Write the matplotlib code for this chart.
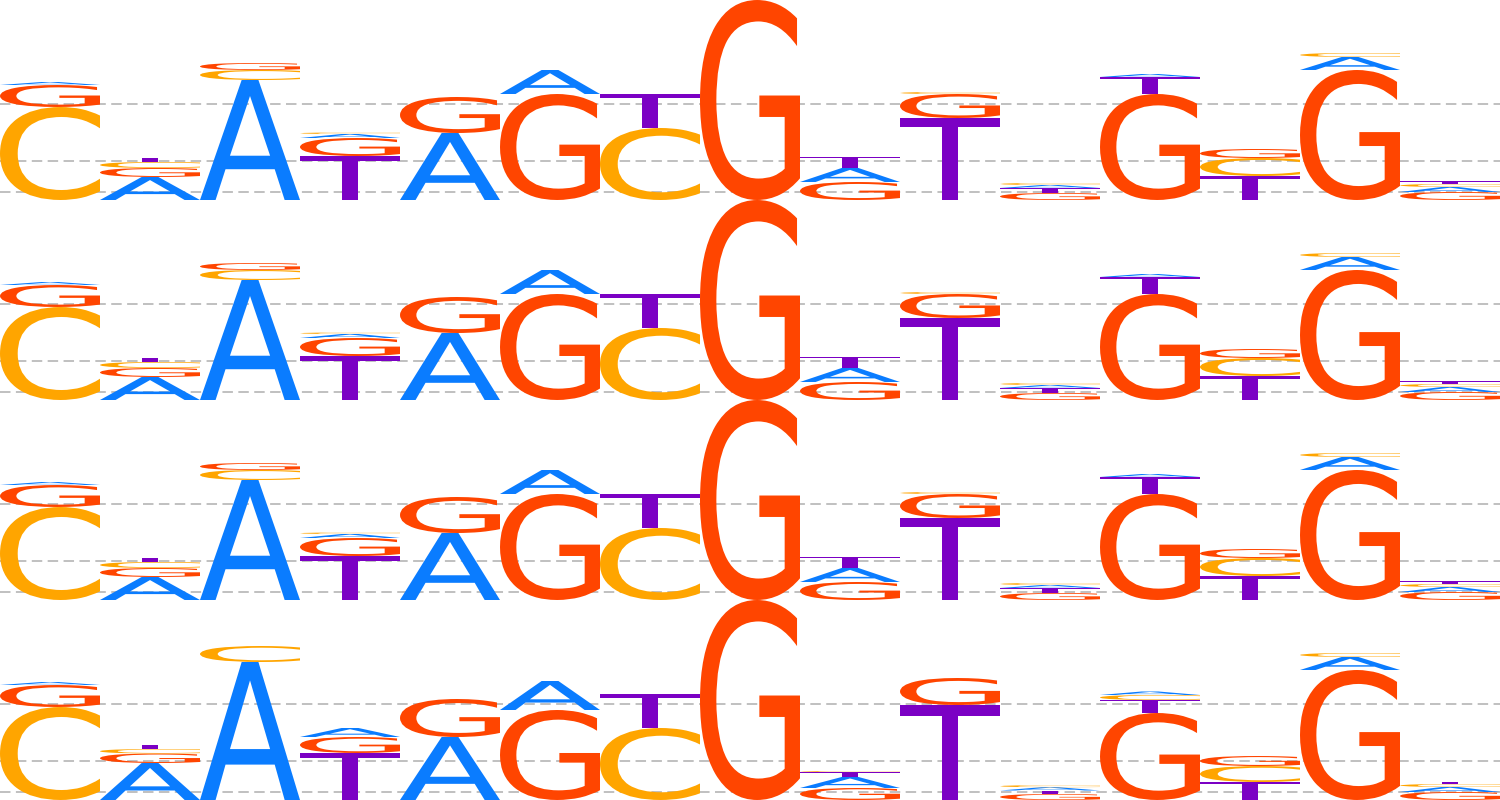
import matplotlib
matplotlib.use("Agg")
import matplotlib.pyplot as plt
from matplotlib.textpath import TextPath
from matplotlib.patches import PathPatch
from matplotlib.font_manager import FontProperties
from matplotlib.transforms import Affine2D

# letter heights (bits) per position, rows 1-3 share the same motif
letters = ["A", "C", "G", "T"]

row1_A = [0.03, 0.23, 1.20, 0.04, 0.67, 0.24, 0.00, 0.00, 0.14, 0.00, 0.03, 0.03, 0.00, 0.13, 0.05]
row1_C = [0.93, 0.06, 0.10, 0.015, 0.00, 0.00, 0.72, 0.00, 0.00, 0.02, 0.02, 0.00, 0.18, 0.04, 0.03]
row1_G = [0.22, 0.09, 0.07, 0.18, 0.36, 1.06, 0.00, 2.00, 0.18, 0.24, 0.07, 1.06, 0.09, 1.30, 0.08]
row1_T = [0.00, 0.04, 0.00, 0.44, 0.00, 0.00, 0.34, 0.00, 0.11, 0.82, 0.05, 0.17, 0.24, 0.00, 0.028]

row2_A = list(row1_A)
row2_C = list(row1_C)
row2_G = list(row1_G)
row2_T = list(row1_T)

row3_A = list(row1_A)
row3_C = list(row1_C)
row3_G = list(row1_G)
row3_T = list(row1_T)

row4_A = [0.03, 0.37, 1.38, 0.09, 0.63, 0.29, 0.00, 0.00, 0.11, 0.00, 0.033, 0.035, 0.00, 0.13, 0.05]
row4_C = [0.93, 0.045, 0.16, 0.00, 0.00, 0.00, 0.72, 0.00, 0.01, 0.00, 0.02, 0.05, 0.16, 0.04, 0.03]
row4_G = [0.22, 0.095, 0.00, 0.16, 0.38, 0.90, 0.00, 2.00, 0.12, 0.27, 0.06, 0.87, 0.10, 1.30, 0.08]
row4_T = [0.00, 0.04, 0.00, 0.47, 0.00, 0.00, 0.34, 0.00, 0.05, 0.95, 0.035, 0.13, 0.18, 0.00, 0.025]

rows = [
    (row1_A, row1_C, row1_G, row1_T),
    (row2_A, row2_C, row2_G, row2_T),
    (row3_A, row3_C, row3_G, row3_T),
    (row4_A, row4_C, row4_G, row4_T),
]

grid_levels = [0.965, 0.39, 0.085]

colors = {"A": "#0a7cff", "C": "#ffa500", "G": "#ff4500", "T": "#7b00c4"}
font = FontProperties(family="DejaVu Sans")


def draw_letter(ax, ch, x, y, w, h):
    tp = TextPath((0, 0), ch, size=1, prop=font)
    bb = tp.get_extents()
    tr = (Affine2D()
          .translate(-bb.x0, -bb.y0)
          .scale(w / bb.width, h / bb.height)
          .translate(x, y))
    path = tr.transform_path(tp)
    patch = PathPatch(path, facecolor=colors[ch], edgecolor="none",
                      transform=ax.transData, clip_on=False, zorder=3)
    ax.add_patch(patch)


fig = plt.figure(figsize=(15, 8), dpi=100)
n_rows = len(rows)
for r, row in enumerate(rows):
    ax = fig.add_axes([0, 1 - (r + 1) / n_rows, 1, 1 / n_rows])
    ax.set_xlim(0, 15)
    ax.set_ylim(0, 2)
    ax.axis("off")
    for lvl in grid_levels:
        ax.axhline(lvl, color="#bbbbbb", lw=1.3, linestyle=(0, (5.8, 3.0)), zorder=1)
    n_pos = len(row[0])
    for i in range(n_pos):
        stack = [(letters[k], row[k][i]) for k in range(4) if row[k][i] > 0]
        stack.sort(key=lambda t: -t[1])
        y = 0.0
        for ch, h in stack:
            draw_letter(ax, ch, i, y, 1.0, h)
            y += h

fig.savefig("out.png", dpi=100)
